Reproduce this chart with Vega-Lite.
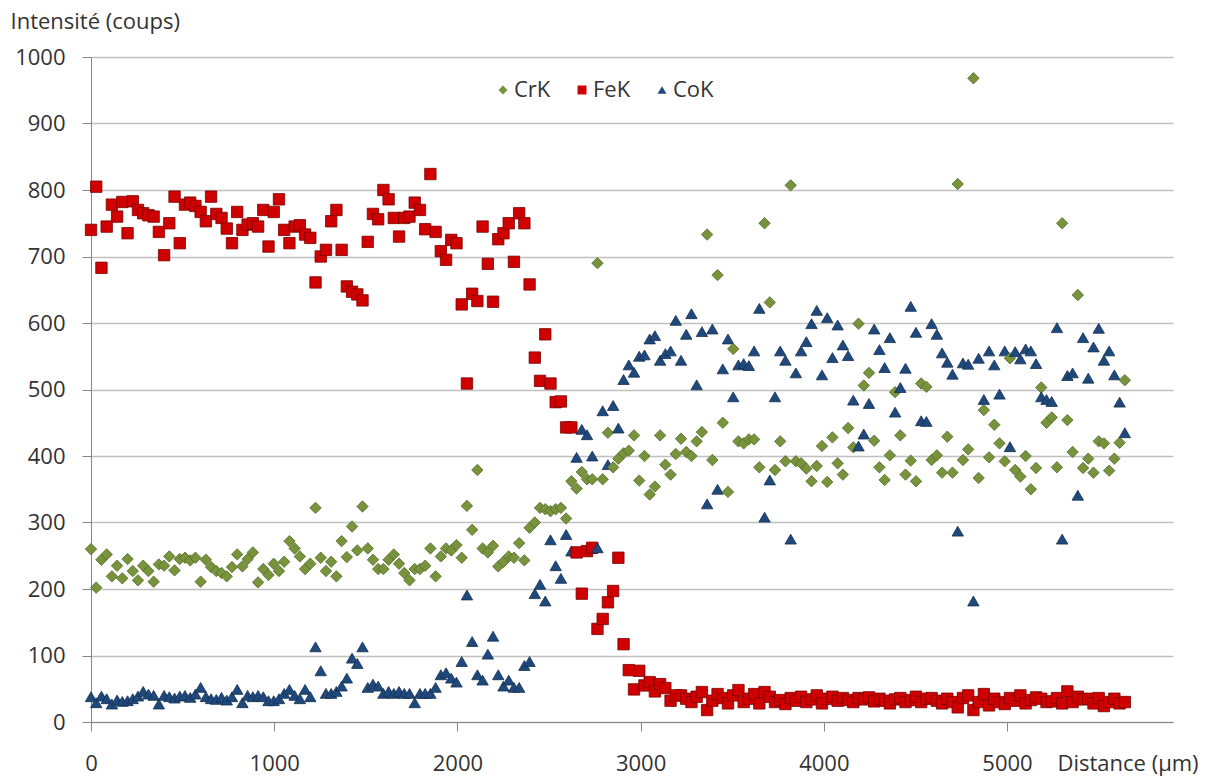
{
 "$schema": "https://vega.github.io/schema/vega-lite/v6.json",
 "width": 1082,
 "height": 665,
 "autosize": {"type": "none"},
 "padding": {"left": 91, "top": 57, "right": 38, "bottom": 56},
 "background": "white",
 "config": {"view": {"stroke": null}, "font": "Open Sans"},
 "data": {"values": [
{"d":0,"CrK":260,"FeK":740,"CoK":38},
{"d":28.5,"CrK":202,"FeK":805,"CoK":29},
{"d":57,"CrK":244,"FeK":683,"CoK":39},
{"d":85.5,"CrK":252,"FeK":745,"CoK":35},
{"d":114,"CrK":219,"FeK":778,"CoK":27},
{"d":142.5,"CrK":235,"FeK":760,"CoK":33},
{"d":171,"CrK":216,"FeK":782,"CoK":31},
{"d":199.5,"CrK":245,"FeK":735,"CoK":32},
{"d":228,"CrK":227,"FeK":783,"CoK":35},
{"d":256.5,"CrK":213,"FeK":770,"CoK":39},
{"d":285,"CrK":235,"FeK":765,"CoK":46},
{"d":313.5,"CrK":227,"FeK":762,"CoK":42},
{"d":342,"CrK":211,"FeK":760,"CoK":40},
{"d":370.5,"CrK":237,"FeK":737,"CoK":27},
{"d":399,"CrK":235,"FeK":702,"CoK":40},
{"d":427.5,"CrK":249,"FeK":750,"CoK":38},
{"d":456,"CrK":228,"FeK":790,"CoK":36},
{"d":484.5,"CrK":245,"FeK":720,"CoK":39},
{"d":513,"CrK":247,"FeK":778,"CoK":40},
{"d":541.5,"CrK":243,"FeK":781,"CoK":37},
{"d":570,"CrK":247,"FeK":776,"CoK":42},
{"d":598.5,"CrK":211,"FeK":767,"CoK":52},
{"d":627,"CrK":244,"FeK":753,"CoK":38},
{"d":655.5,"CrK":233,"FeK":790,"CoK":35},
{"d":684,"CrK":227,"FeK":764,"CoK":34},
{"d":712.5,"CrK":224,"FeK":758,"CoK":37},
{"d":741,"CrK":219,"FeK":742,"CoK":33},
{"d":769.5,"CrK":233,"FeK":720,"CoK":38},
{"d":798,"CrK":252,"FeK":767,"CoK":49},
{"d":826.5,"CrK":234,"FeK":740,"CoK":29},
{"d":855,"CrK":245,"FeK":748,"CoK":40},
{"d":883.5,"CrK":255,"FeK":750,"CoK":38},
{"d":912,"CrK":210,"FeK":745,"CoK":40},
{"d":940.5,"CrK":230,"FeK":770,"CoK":38},
{"d":969,"CrK":221,"FeK":715,"CoK":32},
{"d":997.5,"CrK":238,"FeK":767,"CoK":32},
{"d":1026,"CrK":227,"FeK":786,"CoK":35},
{"d":1054.5,"CrK":241,"FeK":740,"CoK":43},
{"d":1083,"CrK":272,"FeK":720,"CoK":49},
{"d":1111.5,"CrK":261,"FeK":745,"CoK":40},
{"d":1140,"CrK":249,"FeK":747,"CoK":35},
{"d":1168.5,"CrK":230,"FeK":733,"CoK":49},
{"d":1197,"CrK":238,"FeK":728,"CoK":38},
{"d":1225.5,"CrK":322,"FeK":661,"CoK":113},
{"d":1254,"CrK":247,"FeK":700,"CoK":77},
{"d":1282.5,"CrK":227,"FeK":710,"CoK":43},
{"d":1311,"CrK":241,"FeK":753,"CoK":43},
{"d":1339.5,"CrK":219,"FeK":770,"CoK":46},
{"d":1368,"CrK":272,"FeK":710,"CoK":54},
{"d":1396.5,"CrK":248,"FeK":655,"CoK":66},
{"d":1425,"CrK":294,"FeK":647,"CoK":96},
{"d":1453.5,"CrK":258,"FeK":643,"CoK":88},
{"d":1482,"CrK":324,"FeK":634,"CoK":113},
{"d":1510.5,"CrK":261,"FeK":722,"CoK":52},
{"d":1539,"CrK":244,"FeK":764,"CoK":57},
{"d":1567.5,"CrK":230,"FeK":756,"CoK":54},
{"d":1596,"CrK":230,"FeK":800,"CoK":43},
{"d":1624.5,"CrK":244,"FeK":786,"CoK":46},
{"d":1653,"CrK":252,"FeK":758,"CoK":43},
{"d":1681.5,"CrK":238,"FeK":730,"CoK":46},
{"d":1710,"CrK":224,"FeK":758,"CoK":43},
{"d":1738.5,"CrK":213,"FeK":760,"CoK":43},
{"d":1767,"CrK":230,"FeK":781,"CoK":29},
{"d":1795.5,"CrK":230,"FeK":770,"CoK":43},
{"d":1824,"CrK":235,"FeK":741,"CoK":43},
{"d":1852.5,"CrK":261,"FeK":824,"CoK":43},
{"d":1881,"CrK":219,"FeK":737,"CoK":52},
{"d":1909.5,"CrK":249,"FeK":708,"CoK":71},
{"d":1938,"CrK":261,"FeK":695,"CoK":74},
{"d":1966.5,"CrK":258,"FeK":725,"CoK":66},
{"d":1995,"CrK":266,"FeK":720,"CoK":60},
{"d":2023.5,"CrK":247,"FeK":628,"CoK":91},
{"d":2052,"CrK":325,"FeK":509,"CoK":191},
{"d":2080.5,"CrK":289,"FeK":644,"CoK":121},
{"d":2109,"CrK":379,"FeK":633,"CoK":71},
{"d":2137.5,"CrK":261,"FeK":745,"CoK":63},
{"d":2166,"CrK":255,"FeK":689,"CoK":102},
{"d":2194.5,"CrK":265,"FeK":632,"CoK":129},
{"d":2223,"CrK":234,"FeK":726,"CoK":71},
{"d":2251.5,"CrK":241,"FeK":735,"CoK":54},
{"d":2280,"CrK":249,"FeK":750,"CoK":63},
{"d":2308.5,"CrK":247,"FeK":692,"CoK":52},
{"d":2337,"CrK":269,"FeK":765,"CoK":52},
{"d":2365.5,"CrK":243,"FeK":750,"CoK":85},
{"d":2394,"CrK":292,"FeK":658,"CoK":91},
{"d":2422.5,"CrK":300,"FeK":548,"CoK":193},
{"d":2451,"CrK":322,"FeK":513,"CoK":207},
{"d":2479.5,"CrK":320,"FeK":583,"CoK":182},
{"d":2508,"CrK":317,"FeK":509,"CoK":274},
{"d":2536.5,"CrK":320,"FeK":481,"CoK":235},
{"d":2565,"CrK":322,"FeK":482,"CoK":216},
{"d":2593.5,"CrK":306,"FeK":443,"CoK":282},
{"d":2622,"CrK":362,"FeK":443,"CoK":257},
{"d":2650.5,"CrK":351,"FeK":255,"CoK":398},
{"d":2679,"CrK":376,"FeK":193,"CoK":440},
{"d":2707.5,"CrK":365,"FeK":257,"CoK":432},
{"d":2736,"CrK":365,"FeK":262,"CoK":400},
{"d":2764.5,"CrK":690,"FeK":140,"CoK":262},
{"d":2793,"CrK":365,"FeK":155,"CoK":468},
{"d":2821.5,"CrK":435,"FeK":180,"CoK":387},
{"d":2850,"CrK":383,"FeK":197,"CoK":476},
{"d":2878.5,"CrK":396,"FeK":247,"CoK":442},
{"d":2907,"CrK":404,"FeK":117,"CoK":515},
{"d":2935.5,"CrK":408,"FeK":78,"CoK":537},
{"d":2964,"CrK":431,"FeK":49,"CoK":526},
{"d":2992.5,"CrK":363,"FeK":77,"CoK":550},
{"d":3021,"CrK":400,"FeK":55,"CoK":552},
{"d":3049.5,"CrK":342,"FeK":60,"CoK":576},
{"d":3078,"CrK":354,"FeK":46,"CoK":581},
{"d":3106.5,"CrK":431,"FeK":57,"CoK":544},
{"d":3135,"CrK":387,"FeK":51,"CoK":554},
{"d":3163.5,"CrK":372,"FeK":32,"CoK":558},
{"d":3192,"CrK":403,"FeK":40,"CoK":604},
{"d":3220.5,"CrK":426,"FeK":40,"CoK":544},
{"d":3249,"CrK":406,"FeK":35,"CoK":583},
{"d":3277.5,"CrK":400,"FeK":30,"CoK":614},
{"d":3306,"CrK":422,"FeK":38,"CoK":507},
{"d":3334.5,"CrK":436,"FeK":45,"CoK":587},
{"d":3363,"CrK":733,"FeK":18,"CoK":328},
{"d":3391.5,"CrK":394,"FeK":32,"CoK":591},
{"d":3420,"CrK":672,"FeK":42,"CoK":350},
{"d":3448.5,"CrK":450,"FeK":36,"CoK":531},
{"d":3477,"CrK":346,"FeK":28,"CoK":576},
{"d":3505.5,"CrK":561,"FeK":40,"CoK":489},
{"d":3534,"CrK":422,"FeK":48,"CoK":537},
{"d":3562.5,"CrK":419,"FeK":30,"CoK":539},
{"d":3591,"CrK":425,"FeK":35,"CoK":536},
{"d":3619.5,"CrK":425,"FeK":42,"CoK":558},
{"d":3648,"CrK":383,"FeK":28,"CoK":622},
{"d":3676.5,"CrK":750,"FeK":45,"CoK":308},
{"d":3705,"CrK":631,"FeK":38,"CoK":364},
{"d":3733.5,"CrK":379,"FeK":30,"CoK":489},
{"d":3762,"CrK":422,"FeK":33,"CoK":558},
{"d":3790.5,"CrK":392,"FeK":27,"CoK":544},
{"d":3819,"CrK":807,"FeK":36,"CoK":275},
{"d":3847.5,"CrK":392,"FeK":32,"CoK":525},
{"d":3876,"CrK":389,"FeK":38,"CoK":558},
{"d":3904.5,"CrK":381,"FeK":30,"CoK":572},
{"d":3933,"CrK":362,"FeK":34,"CoK":599},
{"d":3961.5,"CrK":385,"FeK":40,"CoK":619},
{"d":3990,"CrK":415,"FeK":28,"CoK":522},
{"d":4018.5,"CrK":361,"FeK":35,"CoK":608},
{"d":4047,"CrK":428,"FeK":38,"CoK":548},
{"d":4075.5,"CrK":389,"FeK":32,"CoK":597},
{"d":4104,"CrK":372,"FeK":36,"CoK":567},
{"d":4132.5,"CrK":442,"FeK":33,"CoK":551},
{"d":4161,"CrK":413,"FeK":30,"CoK":484},
{"d":4189.5,"CrK":599,"FeK":36,"CoK":415},
{"d":4218,"CrK":506,"FeK":34,"CoK":433},
{"d":4246.5,"CrK":525,"FeK":37,"CoK":479},
{"d":4275,"CrK":423,"FeK":31,"CoK":591},
{"d":4303.5,"CrK":383,"FeK":35,"CoK":560},
{"d":4332,"CrK":364,"FeK":32,"CoK":533},
{"d":4360.5,"CrK":401,"FeK":28,"CoK":578},
{"d":4389,"CrK":496,"FeK":34,"CoK":466},
{"d":4417.5,"CrK":431,"FeK":36,"CoK":503},
{"d":4446,"CrK":372,"FeK":30,"CoK":532},
{"d":4474.5,"CrK":393,"FeK":33,"CoK":625},
{"d":4503,"CrK":362,"FeK":38,"CoK":586},
{"d":4531.5,"CrK":509,"FeK":30,"CoK":453},
{"d":4560,"CrK":504,"FeK":35,"CoK":452},
{"d":4588.5,"CrK":394,"FeK":36,"CoK":599},
{"d":4617,"CrK":401,"FeK":32,"CoK":583},
{"d":4645.5,"CrK":375,"FeK":28,"CoK":555},
{"d":4674,"CrK":429,"FeK":35,"CoK":541},
{"d":4702.5,"CrK":375,"FeK":30,"CoK":523},
{"d":4731,"CrK":809,"FeK":22,"CoK":287},
{"d":4759.5,"CrK":394,"FeK":36,"CoK":540},
{"d":4788,"CrK":410,"FeK":40,"CoK":538},
{"d":4816.5,"CrK":968,"FeK":18,"CoK":182},
{"d":4845,"CrK":367,"FeK":30,"CoK":547},
{"d":4873.5,"CrK":469,"FeK":42,"CoK":485},
{"d":4902,"CrK":398,"FeK":25,"CoK":558},
{"d":4930.5,"CrK":447,"FeK":35,"CoK":537},
{"d":4959,"CrK":419,"FeK":30,"CoK":493},
{"d":4987.5,"CrK":392,"FeK":27,"CoK":558},
{"d":5016,"CrK":547,"FeK":36,"CoK":414},
{"d":5044.5,"CrK":379,"FeK":32,"CoK":557},
{"d":5073,"CrK":369,"FeK":40,"CoK":546},
{"d":5101.5,"CrK":400,"FeK":28,"CoK":561},
{"d":5130,"CrK":350,"FeK":33,"CoK":558},
{"d":5158.5,"CrK":382,"FeK":37,"CoK":539},
{"d":5187,"CrK":503,"FeK":35,"CoK":489},
{"d":5215.5,"CrK":450,"FeK":30,"CoK":485},
{"d":5244,"CrK":458,"FeK":31,"CoK":482},
{"d":5272.5,"CrK":383,"FeK":36,"CoK":593},
{"d":5301,"CrK":750,"FeK":28,"CoK":275},
{"d":5329.5,"CrK":454,"FeK":46,"CoK":521},
{"d":5358,"CrK":406,"FeK":30,"CoK":525},
{"d":5386.5,"CrK":642,"FeK":38,"CoK":341},
{"d":5415,"CrK":382,"FeK":34,"CoK":578},
{"d":5443.5,"CrK":396,"FeK":35,"CoK":517},
{"d":5472,"CrK":375,"FeK":28,"CoK":564},
{"d":5500.5,"CrK":422,"FeK":36,"CoK":592},
{"d":5529,"CrK":419,"FeK":24,"CoK":544},
{"d":5557.5,"CrK":378,"FeK":30,"CoK":558},
{"d":5586,"CrK":396,"FeK":35,"CoK":522},
{"d":5614.5,"CrK":420,"FeK":28,"CoK":481},
{"d":5643,"CrK":514,"FeK":30,"CoK":435}
 ]},
 "transform": [{"fold": ["CrK", "FeK", "CoK"], "as": ["serie", "intensite"]}],
 "mark": {"type": "point", "filled": true, "size": 130, "strokeWidth": 0.8, "opacity": 1},
 "encoding": {
  "x": {
   "field": "d", "type": "quantitative",
   "scale": {"domain": [0, 5906], "nice": false},
   "axis": {
    "values": [0, 1000, 2000, 3000, 4000, 5000], "format": "d", "grid": false, "labelFlush": false,
    "domainColor": "#868686", "domainWidth": 1, "tickColor": "#868686", "tickSize": 9,
    "labelFont": "Open Sans", "labelFontSize": 22, "labelColor": "#333333", "labelPadding": 22,
    "title": "Distance (µm)", "titleFont": "Open Sans", "titleFontSize": 22, "titleFontWeight": "normal", "titleColor": "#333333",
    "titleX": 966, "titleY": 31, "titleAlign": "left", "titleBaseline": "top", "titleAnchor": "start"
   }
  },
  "y": {
   "field": "intensite", "type": "quantitative",
   "scale": {"domain": [0, 1000], "nice": false},
   "axis": {
    "values": [0, 100, 200, 300, 400, 500, 600, 700, 800, 900, 1000], "format": "d",
    "grid": true, "gridColor": "#C0C0C0", "gridWidth": 1.5, "labelFlush": false,
    "domainColor": "#868686", "domainWidth": 1, "tickColor": "#868686", "tickSize": 9,
    "labelFont": "Open Sans", "labelFontSize": 22, "labelColor": "#333333", "labelPadding": 17,
    "title": "Intensité (coups)", "titleFont": "Open Sans", "titleFontSize": 22, "titleFontWeight": "normal", "titleColor": "#333333",
    "titleAngle": 0, "titleX": -81, "titleY": -46, "titleAlign": "left", "titleBaseline": "top", "titleAnchor": "start"
   }
  },
  "color": {
   "field": "serie", "type": "nominal",
   "scale": {"domain": ["CrK", "FeK", "CoK"], "range": ["#77933C", "#D00000", "#1F497D"]},
   "legend": {
    "orient": "none", "legendX": 401, "legendY": 22, "direction": "horizontal", "title": null,
    "labelFont": "Open Sans", "labelFontSize": 22, "labelColor": "#333333", "labelOffset": 0,
    "symbolSize": 80, "symbolStrokeWidth": 0, "columnPadding": 20
   }
  },
  "shape": {
   "field": "serie", "type": "nominal",
   "scale": {"domain": ["CrK", "FeK", "CoK"], "range": ["diamond", "square", "triangle-up"]}
  },
  "stroke": {
   "field": "serie", "type": "nominal",
   "scale": {"domain": ["CrK", "FeK", "CoK"], "range": ["#55692A", "#7A0000", "#14304F"]},
   "legend": null
  }
 }
}
